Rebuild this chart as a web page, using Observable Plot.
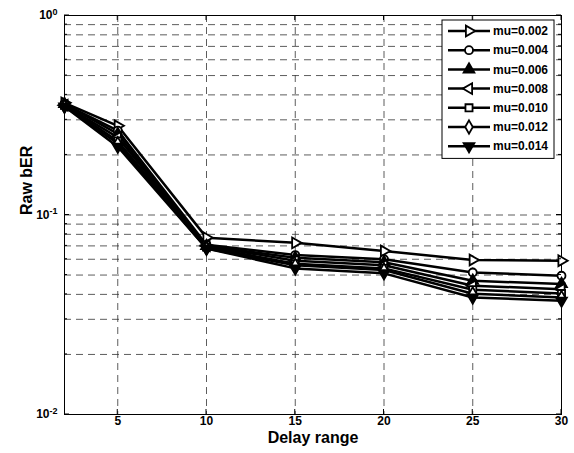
<!DOCTYPE html>
<html><head><meta charset="utf-8">
<script src="https://cdn.jsdelivr.net/npm/d3@7"></script>
<script src="https://cdn.jsdelivr.net/npm/@observablehq/plot@0.6"></script>
<style>
body{margin:0;background:#fff;}
svg{font-family:"Liberation Sans",Arial,sans-serif;}
</style>
</head><body><div id="chart"></div>
<script>
// ---- data ----
const delays = [2, 5, 10, 15, 20, 25, 30];
const mu002 = [0.365, 0.280, 0.077, 0.0725, 0.066, 0.0595, 0.059];
const mu004 = [0.360, 0.265, 0.071, 0.063, 0.060, 0.0515, 0.0496];
const mu006 = [0.360, 0.255, 0.070, 0.061, 0.058, 0.0468, 0.0451];
const mu008 = [0.355, 0.245, 0.070, 0.059, 0.056, 0.0442, 0.0425];
const mu010 = [0.355, 0.235, 0.069, 0.057, 0.054, 0.0422, 0.0404];
const mu012 = [0.350, 0.228, 0.068, 0.056, 0.053, 0.0403, 0.0386];
const mu014 = [0.350, 0.220, 0.068, 0.054, 0.051, 0.0386, 0.0372];
const seriesNames = ["mu=0.002", "mu=0.004", "mu=0.006", "mu=0.008", "mu=0.010", "mu=0.012", "mu=0.014"];
const seriesValues = [mu002, mu004, mu006, mu008, mu010, mu012, mu014];
const markerSymbols = ["triangle", "circle", "triangle", "triangle", "square", "diamond", "triangle"];
const markerRotations = [90, 0, 0, -90, 0, 0, 180];
const markerFills = ["white", "white", "black", "white", "white", "white", "black"];
const xTicks = [5, 10, 15, 20, 25, 30];
const xGrid = [5, 10, 15, 20, 25];
const yTicks = [0.01, 0.1, 1];
const yGrid = [0.02,0.03,0.04,0.05,0.06,0.07,0.08,0.09,0.1,0.2,0.3,0.4,0.5,0.6,0.7,0.8,0.9];
const yMinor = [0.02,0.03,0.04,0.05,0.06,0.07,0.08,0.09,0.2,0.3,0.4,0.5,0.6,0.7,0.8,0.9];
const xLabel = "Delay range";
const yLabel = "Raw bER";

const rows = [];
seriesNames.forEach((name, i) => delays.forEach((d, j) => rows.push({series: name, delay: d, ber: seriesValues[i][j]})));

const symbolMap = {triangle: d3.symbolTriangle, circle: d3.symbolCircle, square: d3.symbolSquare, diamond: d3.symbolDiamond};
const R = 4;

const dotMarks = seriesNames.map((name, i) => Plot.dot(rows.filter(r => r.series === name), {
  x: "delay", y: "ber", symbol: markerSymbols[i], rotate: markerRotations[i],
  fill: markerFills[i], stroke: "black", strokeWidth: 1.8, r: R
}));

const plot = Plot.plot({
  width: 574, height: 453,
  marginLeft: 64, marginRight: 13, marginTop: 15, marginBottom: 39,
  style: {fontFamily: "Liberation Sans, Arial, sans-serif", fontSize: "12px", fontWeight: "bold", background: "white", color: "black"},
  x: {domain: [2, 30]},
  y: {type: "log", domain: [0.01, 1]},
  marks: [
    Plot.ruleY(yGrid, {y: d => d, stroke: "#333", strokeWidth: 0.8, strokeDasharray: "7,5"}),
    Plot.ruleX(xGrid, {x: d => d, stroke: "#333", strokeWidth: 0.8, strokeDasharray: "7,5"}),
    Plot.frame({stroke: "black", strokeWidth: 1}),
    Plot.axisX({ticks: xTicks, tickSize: 0, tickPadding: 2, tickFormat: d => String(d), label: null, fontSize: 12}),
    Plot.axisY({ticks: yTicks, tickSize: 0, tickPadding: 7, tickFormat: d => "10^" + Math.round(Math.log10(d)), label: null}),
    Plot.line(rows, {x: "delay", y: "ber", z: "series", stroke: "black", strokeWidth: 2.5}),
    ...dotMarks,
    Plot.text([xLabel], {frameAnchor: "bottom", dy: 28, fontSize: 16, fontWeight: "bold", text: d => d}),
    Plot.text([yLabel], {frameAnchor: "left", dx: -38, rotate: -90, fontSize: 16, fontWeight: "bold", text: d => d})
  ]
});

const svg = d3.select(plot);
const xs = plot.scale("x"), ys = plot.scale("y");
// superscript tick labels
svg.selectAll('g[aria-label="y-axis tick label"] text').each(function() {
  const t = d3.select(this);
  const s = t.text();
  const m = s.match(/^10\^(-?\d+)$/);
  if (!m) return;
  t.text(null);
  t.append("tspan").text("10");
  t.append("tspan").attr("dy", "-0.5em").attr("font-size", "9px").text(m[1]);
});
// inward ticks
const x0 = xs.apply(2), x1 = xs.apply(30), yb = ys.apply(0.01), yt = ys.apply(1);
const tg = svg.append("g").attr("stroke", "black").attr("stroke-width", 1);
yTicks.forEach(v => { const y = ys.apply(v);
  tg.append("line").attr("x1", x0).attr("x2", x0 + 5).attr("y1", y).attr("y2", y);
  tg.append("line").attr("x1", x1).attr("x2", x1 - 5).attr("y1", y).attr("y2", y); });
yMinor.forEach(v => { const y = ys.apply(v);
  tg.append("line").attr("x1", x0).attr("x2", x0 + 3).attr("y1", y).attr("y2", y);
  tg.append("line").attr("x1", x1).attr("x2", x1 - 3).attr("y1", y).attr("y2", y); });
xTicks.forEach(v => { const x = xs.apply(v);
  tg.append("line").attr("x1", x).attr("x2", x).attr("y1", yb).attr("y2", yb - 5);
  tg.append("line").attr("x1", x).attr("x2", x).attr("y1", yt).attr("y2", yt + 5); });

// legend
const lg = svg.append("g").attr("text-anchor", "start");
const lx = 442, ly = 20, lw = 112, rowH = 19.2;
lg.append("rect").attr("x", lx).attr("y", ly).attr("width", lw).attr("height", rowH * seriesNames.length + 4)
  .attr("fill", "white").attr("stroke", "black").attr("stroke-width", 1);
seriesNames.forEach((name, i) => {
  const cy = ly + 11 + i * rowH;
  lg.append("line").attr("x1", lx + 6).attr("x2", lx + 48).attr("y1", cy).attr("y2", cy)
    .attr("stroke", "black").attr("stroke-width", 2.5);
  lg.append("path").attr("d", d3.symbol(symbolMap[markerSymbols[i]], Math.PI * R * R)())
    .attr("transform", `translate(${lx + 27},${cy}) rotate(${markerRotations[i]})`)
    .attr("fill", markerFills[i]).attr("stroke", "black").attr("stroke-width", 1.8);
  lg.append("text").attr("x", lx + 51).attr("y", cy).attr("dy", "0.35em").attr("text-anchor", "start")
    .attr("font-size", 12).attr("font-weight", "bold").attr("fill", "black").text(name);
});

document.getElementById("chart").appendChild(plot);
</script>
</body></html>
